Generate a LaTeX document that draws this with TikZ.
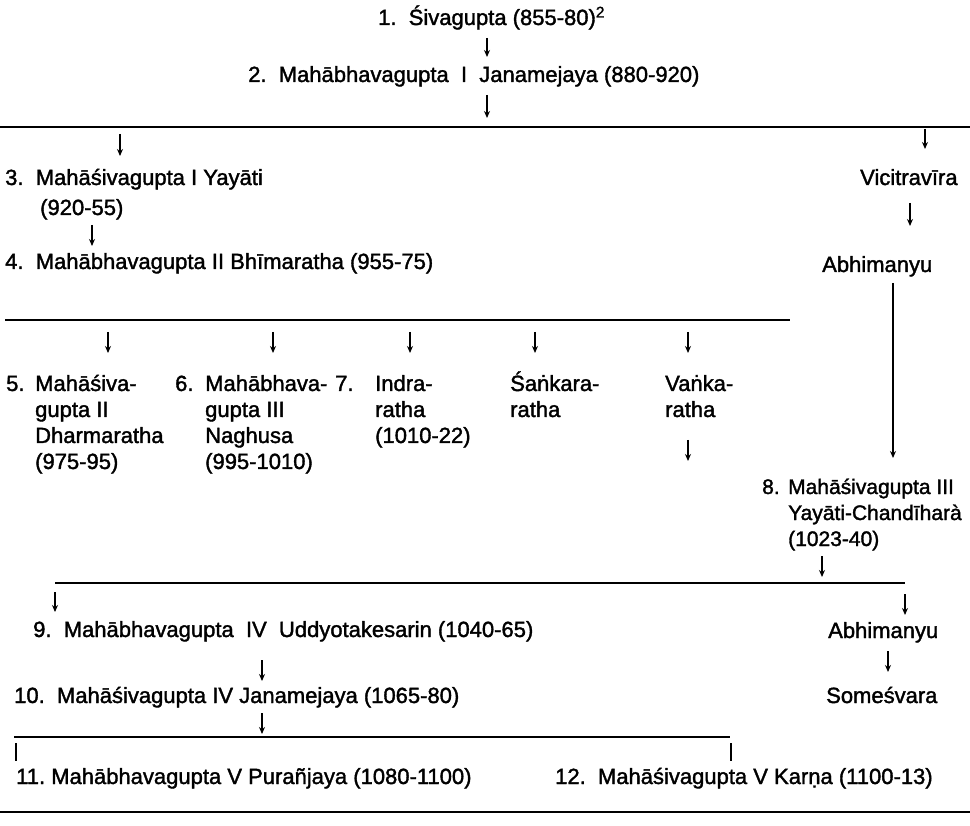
\documentclass[tikz,border=0pt]{standalone}
\usepackage{fontspec}
\setmainfont{Liberation Sans}
\newfontfamily\medfont{Liberation Sans}[FakeBold=1.6]
\usetikzlibrary{arrows.meta}
\newcommand\stackl[1]{\begin{tabular}[t]{@{}l@{}}#1\end{tabular}}
\begin{document}
\begin{tikzpicture}[x=1pt,y=-1pt,
  lbl/.style={anchor=base west, inner sep=0pt, font=\medfont\fontsize{22}{26}\selectfont},
  narrow/.style={font=\medfont\fontsize{21}{26}\selectfont},
  arr/.style={line width=1.3pt, -{Stealth[length=7pt,width=6pt]}},
  tick/.style={line width=1.2pt},
  bus/.style={line width=2pt},
  rule/.style={line width=2.6pt}]
\useasboundingbox (0,0) rectangle (970,826);

% ---- names ----
\node[lbl] (n1) at (378,25) {1.\ \ Śivagupta (855-80)\textsuperscript{2}};
\node[lbl] (n2) at (248,82) {2.\ \ Mahābhavagupta\ \ I\ \ Janamejaya (880-920)};
\node[lbl] (n3) at (5,185) {3.\ \ Mahāśivagupta I Yayāti};
\node[lbl] (n3d) at (40,215) {(920-55)};
\node[lbl] (n4) at (5,269) {4.\ \ Mahābhavagupta II Bhīmaratha (955-75)};
\node[lbl] (vic) at (860,185) {Vicitravīra};
\node[lbl] (abh) at (822,272) {Abhimanyu};

\node[lbl] (n5n) at (6,391) {5.};
\node[lbl] (n5) at (35,391) {\stackl{Mahāśiva-\\gupta II\\Dharmaratha\\(975-95)}};
\node[lbl] (n6n) at (175,391) {6.};
\node[lbl] (n6) at (205,391) {\stackl{Mahābhava-\\gupta III\\Naghusa\\(995-1010)}};
\node[lbl] (n7n) at (335,391) {7.};
\node[lbl] (n7) at (375,391) {\stackl{Indra-\\ratha\\(1010-22)}};
\node[lbl] (san) at (510,391) {\stackl{Śaṅkara-\\ratha}};
\node[lbl] (van) at (665,391) {\stackl{Vaṅka-\\ratha}};

\node[lbl,narrow] (n8n) at (762,494) {8.};
\node[lbl,narrow] (n8) at (788,494) {\stackl{Mahāśivagupta III\\Yayāti-Chandīharà\\(1023-40)}};

\node[lbl] (n9) at (33,637) {9.\ \ Mahābhavagupta\ \ IV\ \ Uddyotakesarin (1040-65)};
\node[lbl] (abh2) at (828,638) {Abhimanyu};
\node[lbl] (n10) at (14,703) {10.\ \ Mahāśivagupta\ IV\ Janamejaya (1065-80)};
\node[lbl] (som) at (826,703) {Someśvara};
\node[lbl] (n11) at (16,784) {11.\ Mahābhavagupta V Purañjaya (1080-1100)};
\node[lbl] (n12) at (555,784) {12.\ \ Mahāśivagupta\ V\ Karṇa\ (1100-13)};

% ---- horizontal lines ----
\coordinate (b1w) at (0,127);   \coordinate (b1e) at (970,127);
\coordinate (b2w) at (5,320);   \coordinate (b2e) at (790,320);
\coordinate (b3w) at (55,583);  \coordinate (b3e) at (905,583);
\coordinate (b4w) at (14,737);  \coordinate (b4e) at (730,737);
\coordinate (b5w) at (0,812);   \coordinate (b5e) at (970,812);
\draw[rule] (b1w) -- (b1e);
\draw[bus] (b2w) -- (b2e);
\draw[bus] (b3w) -- (b3e);
\draw[bus] (b4w) -- (b4e);
\draw[rule] (b5w) -- (b5e);

% ---- arrows ----
\coordinate (a1s) at (487,38);  \coordinate (a1e) at (487,57);
\coordinate (a2s) at (487,95);  \coordinate (a2e) at (487,118);
\coordinate (a3s) at (120,134); \coordinate (a3e) at (120,156);
\coordinate (avs) at (925,129); \coordinate (ave) at (925,149);
\coordinate (a4s) at (92,225);  \coordinate (a4e) at (92,246);
\coordinate (abs) at (910,203); \coordinate (abe) at (910,226);
\coordinate (als) at (893,283); \coordinate (ale) at (893,458);
\draw[arr] (a1s) -- (a1e);
\draw[arr] (a2s) -- (a2e);
\draw[arr] (a3s) -- (a3e);
\draw[arr] (avs) -- (ave);
\draw[arr] (a4s) -- (a4e);
\draw[arr] (abs) -- (abe);
\draw[arr] (als) -- (ale);

\foreach \x [count=\i] in {108,273,410,535,688} {
  \coordinate (c\i s) at (\x,332);
  \coordinate (c\i e) at (\x,353);
  \draw[arr] (c\i s) -- (c\i e);
}
\coordinate (avks) at (688,440); \coordinate (avke) at (688,461);
\draw[arr] (avks) -- (avke);

\coordinate (a8s) at (822,556);  \coordinate (a8e) at (822,577);
\coordinate (a9s) at (55,592);   \coordinate (a9e) at (55,612);
\coordinate (ab2s) at (905,594); \coordinate (ab2e) at (905,615);
\coordinate (a10s) at (262,660); \coordinate (a10e) at (262,681);
\coordinate (asos) at (888,651); \coordinate (asoe) at (888,672);
\coordinate (a11s) at (262,713); \coordinate (a11e) at (262,734);
\draw[arr] (a8s) -- (a8e);
\draw[arr] (a9s) -- (a9e);
\draw[arr] (ab2s) -- (ab2e);
\draw[arr] (a10s) -- (a10e);
\draw[arr] (asos) -- (asoe);
\draw[arr] (a11s) -- (a11e);

% ---- plain drops to 11 and 12 ----
\coordinate (t1s) at (16,743);  \coordinate (t1e) at (16,761);
\coordinate (t2s) at (731,743); \coordinate (t2e) at (731,761);
\draw[tick] (t1s) -- (t1e);
\draw[tick] (t2s) -- (t2e);
\end{tikzpicture}
\end{document}
